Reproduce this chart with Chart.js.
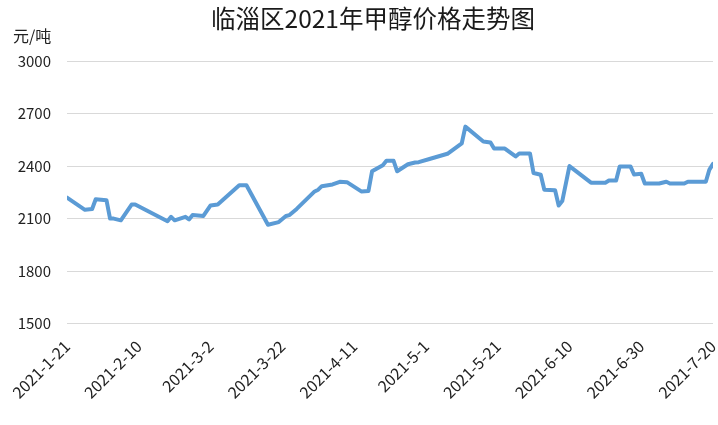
<!DOCTYPE html>
<html>
<head>
<meta charset="utf-8">
<script src="https://cdn.jsdelivr.net/npm/chart.js@4/dist/chart.umd.min.js"></script>
<style>
    html, body { margin: 0; padding: 0; background: #fff; }
    #box { width: 718px; height: 425px; }
</style>
</head>
<body>
<div id="box"><canvas id="graphique-methanol" width="718" height="425"></canvas></div>
<script>
// Données
const dates = [
    "2021-1-21", "2021-1-26", "2021-1-28", "2021-1-29", "2021-2-1", "2021-2-2", "2021-2-3", "2021-2-5",
    "2021-2-8", "2021-2-9", "2021-2-18", "2021-2-19", "2021-2-20", "2021-2-23", "2021-2-24", "2021-2-25",
    "2021-2-28", "2021-3-2", "2021-3-4", "2021-3-10", "2021-3-12", "2021-3-18", "2021-3-21", "2021-3-23",
    "2021-3-24", "2021-3-26", "2021-3-31", "2021-4-1", "2021-4-2", "2021-4-5", "2021-4-7", "2021-4-9",
    "2021-4-13", "2021-4-15", "2021-4-16", "2021-4-19", "2021-4-20", "2021-4-22", "2021-4-23", "2021-4-26",
    "2021-4-28", "2021-4-29", "2021-5-2", "2021-5-7", "2021-5-11", "2021-5-12", "2021-5-17", "2021-5-19",
    "2021-5-20", "2021-5-23", "2021-5-26", "2021-5-27", "2021-5-30", "2021-5-31", "2021-6-2", "2021-6-3",
    "2021-6-6", "2021-6-7", "2021-6-8", "2021-6-10", "2021-6-16", "2021-6-20", "2021-6-21", "2021-6-23",
    "2021-6-24", "2021-6-27", "2021-6-28", "2021-6-30", "2021-7-1", "2021-7-5", "2021-7-7", "2021-7-8",
    "2021-7-12", "2021-7-13", "2021-7-18", "2021-7-19", "2021-7-20"
]
const prix = [
    2220, 2150, 2155, 2210, 2205, 2100, 2100, 2090,
    2180, 2180, 2085, 2110, 2090, 2110, 2095, 2120,
    2115, 2175, 2180, 2290, 2290, 2065, 2080, 2115,
    2120, 2155, 2255, 2265, 2285, 2295, 2310, 2308,
    2255, 2258, 2370, 2405, 2430, 2430, 2370, 2410,
    2420, 2422, 2440, 2470, 2530, 2625, 2540, 2535,
    2500, 2500, 2455, 2472, 2472, 2360, 2350, 2265,
    2262, 2175, 2200, 2400, 2305, 2305, 2317, 2317,
    2398, 2398, 2352, 2356, 2300, 2300, 2310, 2300,
    2300, 2310, 2310, 2380, 2412
]
const tickLabels = [
    "2021-1-21", "2021-2-10", "2021-3-2", "2021-3-22", "2021-4-11",
    "2021-5-1", "2021-5-21", "2021-6-10", "2021-6-30", "2021-7-20"
]
const yTicks = [1500, 1800, 2100, 2400, 2700, 3000]
const titre = "临淄区2021年甲醇价格走势图"
const unite = "元/吨"

const police = '"Noto Sans CJK SC", "Noto Sans", sans-serif'

function joursDepuis(dateStr) {
    const [a, m, j] = dateStr.split("-").map(Number)
    const [a0, m0, j0] = tickLabels[0].split("-").map(Number)
    return (Date.UTC(a, m - 1, j) - Date.UTC(a0, m0 - 1, j0)) / 86400000
}

const points = dates.map((d, i) => ({ x: joursDepuis(d), y: prix[i] }))

// Titre et unité dessinés à la main, placés comme dans l'image d'origine
const titrePlugin = {
    id: "titreEtUnite",
    afterDraw(chart) {
        const ctx = chart.ctx
        ctx.save()
        ctx.fillStyle = "#1a1a1a"
        ctx.textBaseline = "middle"
        ctx.textAlign = "center"
        ctx.font = `24.5px ${police}`
        ctx.fillText(titre, 373, 19)
        ctx.textAlign = "left"
        ctx.fillStyle = "#222"
        ctx.font = `16px ${police}`
        ctx.fillText(unite, 13, 36)
        ctx.restore()
    }
}

const config = {
    type: "line",
    data: {
        datasets: [{
            label: "甲醇价格",
            data: points,
            borderColor: "#5b9bd5",
            borderWidth: 4,
            pointRadius: 0,
            tension: 0,
            borderJoinStyle: "round",
            borderCapStyle: "round",
        }],
    },
    options: {
        responsive: false,
        animation: false,
        layout: { padding: { left: 12, right: 5, top: 61, bottom: 18 } },
        plugins: {
            legend: { display: false },
            tooltip: { enabled: false },
        },
        scales: {
            x: {
                type: "linear",
                min: 0,
                max: 180,
                grid: { display: false },
                border: { display: false },
                afterFit: (axis) => {
                    // les étiquettes inclinées débordent à gauche comme dans l'original
                    axis.paddingLeft = 0
                    axis.paddingRight = 0
                },
                ticks: {
                    stepSize: 20,
                    autoSkip: false,
                    maxRotation: 45,
                    minRotation: 45,
                    color: "#222",
                    padding: 5,
                    font: { family: police, size: 16 },
                    callback: (value) => tickLabels[Math.round(value / 20)],
                },
            },
            y: {
                min: yTicks[0],
                max: yTicks[yTicks.length - 1],
                grid: { color: "#d9d9d9", lineWidth: 1, drawTicks: false },
                border: { display: false },
                afterBuildTicks: (axis) => {
                    axis.ticks = yTicks.map(v => ({ value: v }))
                },
                afterFit: (axis) => {
                    axis.width = 55
                    axis.paddingTop = 0
                },
                ticks: {
                    color: "#222",
                    padding: 16,
                    font: { family: police, size: 15 },
                    callback: (value) => String(value),
                },
            },
        },
    },
    plugins: [titrePlugin],
}

new Chart(document.querySelector("#graphique-methanol"), config)
</script>
</body>
</html>
